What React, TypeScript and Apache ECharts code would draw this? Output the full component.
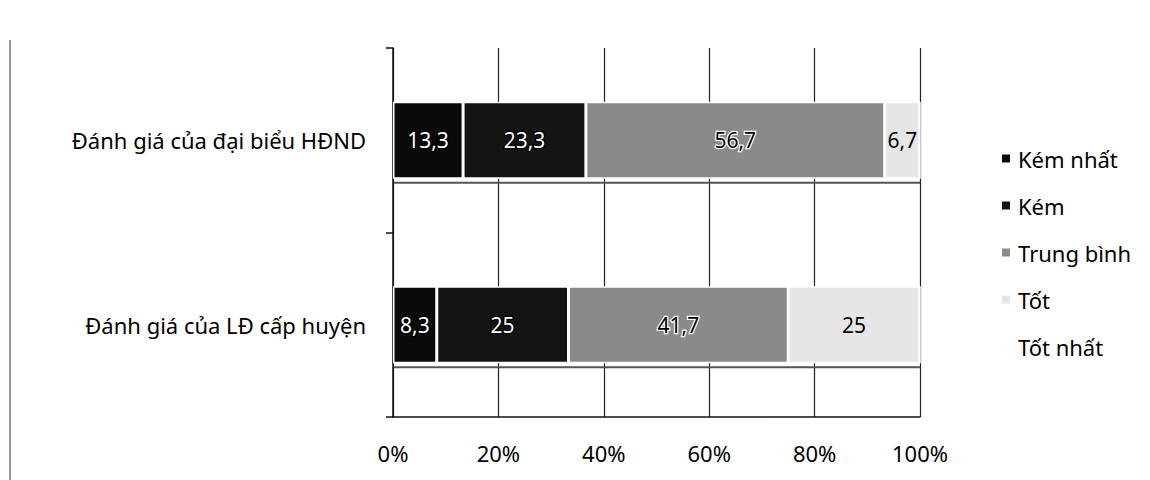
import React, { useEffect, useRef } from "react";
import * as echarts from "echarts";

const categories = ["Đánh giá của đại biểu HĐND", "Đánh giá của LĐ cấp huyện"];
const seriesNames = ["Kém nhất", "Kém", "Trung bình", "Tốt", "Tốt nhất"];
const kemNhat = [13.3, 8.3];
const kem = [23.3, 25];
const trungBinh = [56.7, 41.7];
const tot = [6.7, 25];
const totNhat = [0, 0];
const xTicks = [0, 20, 40, 60, 80, 100];

const seriesValues = [kemNhat, kem, trungBinh, tot, totNhat];
const seriesColors = ["#0a0a0a", "#141414", "#8a8a8a", "#e6e6e6", "#ffffff"];
const labelColors = ["#ffffff", "#ffffff", "#000000", "#000000", "#000000"];
const labelBorders = ["#000000", "#000000", "#ffffff", "transparent", "transparent"];

const FONT = "'Noto Sans', 'DejaVu Sans', sans-serif";

export default function App() {
  const ref = useRef<HTMLDivElement>(null);
  useEffect(() => {
    document.body.style.margin = "0";
    if (!ref.current) return;
    const chart = echarts.init(ref.current, undefined, { renderer: "svg" });
    const barWidth = 77;
    const option: any = {
      animation: false,
      backgroundColor: "#ffffff",
      textStyle: { fontFamily: FONT },
      grid: { left: 393, right: 230, top: 48, bottom: 63, containLabel: false },
      legend: {
        orient: "vertical",
        left: 995,
        top: 141,
        itemWidth: 10,
        itemHeight: 10,
        itemGap: 22,
        icon: "rect",
        data: seriesNames,
        textStyle: { fontSize: 22, color: "#000", fontFamily: FONT, lineHeight: 25, padding: [0, 0, 0, 2] },
      },
      xAxis: {
        type: "value",
        min: xTicks[0],
        max: xTicks[xTicks.length - 1],
        interval: xTicks[1] - xTicks[0],
        axisLabel: { formatter: "{value}%", fontSize: 22, color: "#000", margin: 25, fontFamily: FONT },
        axisLine: { show: true, lineStyle: { color: "#111", width: 1.5 } },
        axisTick: { show: false },
        splitLine: { show: true, lineStyle: { color: "#222", width: 1.2 } },
      },
      yAxis: {
        type: "category",
        inverse: true,
        data: categories,
        axisLine: { show: true, lineStyle: { color: "#111", width: 1.5 } },
        axisTick: { show: true, length: 7, lineStyle: { color: "#111", width: 1.5 } },
        axisLabel: { fontSize: 22, color: "#000", margin: 27, fontFamily: FONT },
      },
      series: seriesNames.map((name, i) => ({
        name,
        type: "bar",
        stack: "total",
        barWidth,
        data: seriesValues[i],
        itemStyle: { color: seriesColors[i], borderColor: "#ffffff", borderWidth: 1.5 },
        label: {
          show: true,
          position: "inside",
          fontSize: 21,
          fontFamily: FONT,
          color: labelColors[i],
          textBorderColor: labelBorders[i],
          textBorderWidth: labelBorders[i] === "transparent" ? 0 : 2.5,
          formatter: (p: any) => (p.value > 0 ? String(p.value).replace(".", ",") : ""),
        },
      })),
    };
    chart.setOption(option);

    const graphics: any[] = [];
    const x0 = chart.convertToPixel({ xAxisIndex: 0 }, xTicks[0]) as number;
    const x1 = chart.convertToPixel({ xAxisIndex: 0 }, xTicks[xTicks.length - 1]) as number;
    categories.forEach((c) => {
      const yc = chart.convertToPixel({ yAxisIndex: 0 }, c) as number;
      const y = yc + barWidth / 2 + 4;
      graphics.push({
        type: "line",
        shape: { x1: x0, y1: y, x2: x1, y2: y },
        style: { stroke: "#555", lineWidth: 2 },
        silent: true,
      });
    });
    graphics.push({
      type: "line",
      shape: { x1: 10, y1: 40, x2: 10, y2: 480 },
      style: { stroke: "#777", lineWidth: 1.5 },
      silent: true,
    });
    chart.setOption({ graphic: graphics });

    return () => chart.dispose();
  }, []);
  return <div ref={ref} style={{ width: 1150, height: 480 }} />;
}
